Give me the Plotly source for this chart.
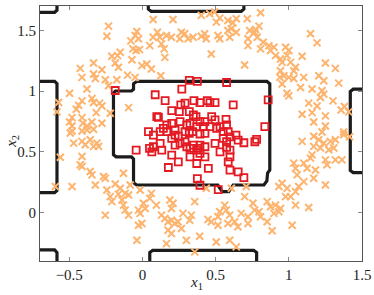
import plotly.graph_objects as go

# ---- class 0 (orange crosses): x1, x2 ----
orange_x1 = [
 -0.232,-0.243,-0.038,-0.05,-0.027,-0.079,-0.065,-0.043,-0.02,-0.152,-0.17,-0.209,-0.186,-0.164,-0.072,-0.004,0.03,
 -0.334,-0.425,-0.413,-0.334,-0.322,-0.277,-0.254,-0.175,-0.102,-0.05,-0.232,-0.379,-0.498,-0.573,-0.584,-0.436,-0.452,
 -0.413,-0.345,-0.334,-0.293,-0.277,-0.316,-0.22,-0.095,-0.481,-0.413,-0.498,-0.481,-0.406,-0.379,-0.345,-0.277,-0.481,
 -0.413,-0.379,-0.334,
 0.073,0.209,0.402,0.459,0.493,0.528,0.505,0.584,0.618,0.641,0.716,0.102,0.073,0.119,0.164,0.198,0.266,0.289,0.255,0.312,
 0.346,0.402,0.425,0.436,0.516,0.528,0.584,0.607,0.641,0.596,0.732,0.766,0.721,0.721,0.05,0.13,0.148,0.153,0.061,0.125,
 0.47,0.698,
 0.807,0.796,0.773,0.784,0.825,0.807,0.864,0.898,0.875,0.909,0.943,0.978,1.0,0.988,0.954,1.012,1.046,1.034,0.943,0.939,
 0.966,1.0,1.034,1.102,0.954,1.08,1.148,1.193,1.091,1.25,1.318,1.341,1.205,1.239,1.159,1.227,1.239,0.988,1.0,1.216,1.302,
 1.136,1.193,1.091,1.159,1.25,1.357,1.409,1.17,1.25,1.227,1.375,1.38,1.415,
 -0.493,-0.47,-0.413,-0.391,-0.357,-0.334,-0.3,-0.311,-0.561,-0.413,-0.425,-0.413,-0.357,-0.345,-0.266,-0.254,-0.13,-0.595,
 -0.481,-0.322,-0.243,-0.186,-0.152,-0.164,-0.118,-0.095,-0.084,-0.016,-0.22,-0.209,-0.14,-0.13,-0.118,-0.027,0.007,0.018,
 -0.254,-0.095,-0.016,-0.027,-0.004,-0.038,
 0.061,0.05,0.095,0.187,0.209,0.198,0.357,0.436,0.607,0.709,0.698,0.755,0.766,0.562,0.573,0.596,0.528,0.516,0.675,0.721,
 0.13,0.153,0.175,0.198,0.221,0.243,0.277,0.334,0.323,0.266,0.175,0.198,0.3,0.391,0.448,0.47,0.516,0.584,0.63,0.652,0.721,
 0.504,0.596,0.641,0.164,0.357,
 1.091,1.17,1.205,1.239,1.284,1.318,1.375,1.17,1.216,1.273,1.307,1.148,1.159,1.25,1.261,1.318,1.363,1.102,1.125,1.182,
 1.034,1.046,1.057,1.17,1.25,1.102,1.068,1.046,0.988,0.954,0.932,1.012,0.978,1.046,1.136,0.852,0.875,0.909,0.943,0.898,
 0.932,0.796,0.807,0.852,0.886,1.023,
]
orange_x2 = [
 1.534,1.451,1.49,1.457,1.43,1.413,1.347,1.333,1.341,1.319,1.291,1.286,1.231,1.195,1.258,1.209,1.222,
 1.231,1.186,1.112,1.14,1.103,1.175,1.093,1.093,1.131,1.112,1.043,1.016,0.982,0.905,0.828,0.883,0.85,
 0.919,0.938,0.905,0.9,0.877,0.822,0.817,0.863,0.781,0.781,0.745,0.712,0.734,0.712,0.745,0.734,0.671,
 0.671,0.679,0.685,
 1.589,1.589,1.623,1.636,1.65,1.6,1.567,1.581,1.562,1.595,1.595,1.484,1.443,1.443,1.457,1.443,1.484,1.471,1.43,1.43,
 1.443,1.451,1.471,1.43,1.457,1.43,1.498,1.512,1.484,1.443,1.498,1.484,1.43,1.374,1.374,1.388,1.347,1.277,1.181,1.126,
 1.305,1.214,
 1.645,1.534,1.507,1.443,1.402,1.347,1.374,1.36,1.333,1.291,1.264,1.36,1.333,1.291,1.236,1.236,1.195,1.167,1.167,1.112,
 1.126,1.112,1.103,1.112,1.057,1.029,1.471,1.396,1.286,1.231,1.186,1.065,1.126,1.084,1.016,1.002,0.974,0.982,0.96,0.946,0.919,
 0.9,0.877,0.809,0.822,0.795,0.844,0.828,0.745,0.712,0.662,0.662,0.872,0.623,
 0.654,0.571,0.585,0.557,0.599,0.544,0.544,0.571,0.455,0.461,0.392,0.378,0.337,0.309,0.296,0.281,0.323,0.213,
 0.213,0.226,0.185,0.234,0.199,0.151,0.157,0.143,0.226,0.185,0.13,0.089,0.102,0.06,0.019,0.019,0.075,0.033,
 -0.022,-0.022,-0.008,-0.105,-0.091,-0.229,
 0.157,0.116,0.06,0.102,0.075,0.033,0.089,0.199,0.199,0.213,0.13,0.075,0.019,0.06,0.019,-0.022,0.006,-0.036,-0.008,-0.036,
 -0.022,-0.05,-0.077,-0.064,-0.091,-0.077,-0.008,-0.022,-0.064,-0.132,-0.147,-0.174,-0.229,-0.196,-0.058,-0.077,-0.105,
 -0.091,-0.077,-0.118,-0.091,-0.243,-0.229,-0.284,-0.257,-0.325,
 0.585,0.627,0.599,0.571,0.585,0.599,0.64,0.544,0.53,0.516,0.53,0.447,0.474,0.433,0.392,0.433,0.433,0.406,0.364,0.35,
 0.406,0.364,0.309,0.281,0.226,0.254,0.213,0.171,0.199,0.24,0.213,0.13,0.13,0.06,0.041,0.089,0.047,0.06,0.033,-0.008,
 0.006,0.006,-0.036,-0.077,-0.151,-0.105,
]

# ---- class 1 (red squares): x1, x2 ----
red_x1 = [
 0.320,0.375,0.575,0.269,0.087,0.155,0.859,0.620,0.352,0.393,0.443,0.461,0.496,0.262,0.291,0.200,0.252,0.320,0.348,0.366,
 0.098,0.109,0.257,0.325,0.393,0.427,0.473,0.496,0.571,0.575,0.530,0.461,0.416,0.371,0.303,0.166,0.143,0.200,0.223,0.166,
 0.121,0.041,0.075,0.223,0.200,0.245,0.291,0.320,0.343,0.427,0.393,0.507,0.552,0.586,0.598,0.639,0.654,0.693,0.780,0.768,
 0.836,0.552,0.575,0.575,0.598,0.530,0.496,0.427,0.393,0.382,0.348,0.325,0.291,0.303,0.257,0.223,0.121,0.075,0.048,0.064,
 0.132,-0.043,0.200,0.245,0.371,0.393,0.325,0.371,0.427,0.450,0.598,0.586,0.654,0.693,0.598,0.375,0.393,0.177,0.518,-0.186,
]
red_x2 = [
 1.087,1.079,1.070,1.016,0.969,0.921,0.927,0.886,0.921,0.905,0.921,0.905,0.905,0.886,0.900,0.839,0.830,0.830,0.803,0.789,
 0.789,0.784,0.748,0.734,0.748,0.748,0.789,0.762,0.767,0.720,0.706,0.706,0.706,0.706,0.720,0.720,0.693,0.734,0.679,0.665,
 0.665,0.665,0.637,0.637,0.610,0.629,0.665,0.651,0.665,0.651,0.646,0.693,0.665,0.665,0.623,0.637,0.596,0.574,0.602,0.582,
 0.706,0.610,0.582,0.536,0.513,0.499,0.569,0.541,0.555,0.527,0.555,0.527,0.582,0.541,0.569,0.555,0.569,0.541,0.527,0.499,
 0.513,0.513,0.472,0.416,0.513,0.486,0.458,0.403,0.458,0.362,0.458,0.416,0.334,0.287,0.348,0.279,0.224,0.370,0.188,1.004,
]

# ---- decision boundary polylines ----
b_center_x1 = [-0.04,0.85,0.87,0.87,0.855,0.85,0.83,0.62,0.605,0.59,0.545,0.53,0.515,-0.04,-0.061,-0.061,-0.075,-0.18,-0.198,-0.198,-0.185,-0.075,-0.061,-0.061,-0.04]
b_center_x2 = [1.079,1.079,1.06,0.35,0.325,0.26,0.226,0.226,0.2,0.172,0.172,0.2,0.226,0.226,0.245,0.44,0.458,0.458,0.475,0.985,1.0,1.0,1.015,1.06,1.079]
b_left_x1 = [-0.75,-0.6,-0.584,-0.584,-0.6,-0.75]
b_left_x2 = [1.079,1.079,1.06,0.18,0.163,0.163]
b_tl_x1 = [-0.75,-0.6,-0.584,-0.584]
b_tl_x2 = [1.648,1.648,1.665,1.75]
b_bl_x1 = [-0.75,-0.6,-0.584,-0.584]
b_bl_x2 = [-0.309,-0.309,-0.33,-0.45]
b_top_x1 = [0.04,0.04,0.06,0.675,0.693,0.693]
b_top_x2 = [1.75,1.675,1.655,1.655,1.675,1.75]
b_bot_x1 = [0.05,0.05,0.07,0.76,0.78,0.78]
b_bot_x2 = [-0.45,-0.33,-0.312,-0.312,-0.33,-0.45]
b_right_x1 = [1.55,1.44,1.42,1.42,1.44,1.55]
b_right_x2 = [1.015,1.015,0.995,0.345,0.328,0.328]

x_tickvals = [-0.5, 0, 0.5, 1, 1.5]
x_ticktext = ["\u22120.5", "0", "0.5", "1", "1.5"]
y_tickvals = [0, 0.5, 1, 1.5]
y_ticktext = ["0", "0.5", "1", "1.5"]

fig = go.Figure()
for bx, by in [(b_center_x1, b_center_x2), (b_left_x1, b_left_x2), (b_tl_x1, b_tl_x2),
               (b_bl_x1, b_bl_x2), (b_top_x1, b_top_x2), (b_bot_x1, b_bot_x2),
               (b_right_x1, b_right_x2)]:
    fig.add_trace(go.Scatter(x=bx, y=by, mode="lines",
                             line=dict(color="#1c1c1c", width=3.2),
                             hoverinfo="skip", showlegend=False))

fig.add_trace(go.Scatter(x=orange_x1, y=orange_x2, mode="markers",
                         marker=dict(symbol="x-thin", size=7,
                                     line=dict(color="#FDB46E", width=2)),
                         showlegend=False))
fig.add_trace(go.Scatter(x=red_x1, y=red_x2, mode="markers",
                         marker=dict(symbol="square-open", size=7,
                                     color="#E41A23",
                                     line=dict(color="#E41A23", width=1.8)),
                         showlegend=False))

font = dict(family="Liberation Serif", size=15, color="#222")
fig.update_layout(
    width=374, height=295,
    margin=dict(l=40, r=12, t=6, b=34, autoexpand=False),
    paper_bgcolor="white", plot_bgcolor="white",
    font=font,
    xaxis=dict(range=[-0.7, 1.5], tickvals=x_tickvals, ticktext=x_ticktext,
               showgrid=False, zeroline=False, showline=True, linecolor="#555",
               linewidth=1, mirror="ticks", ticks="inside", ticklen=4, tickcolor="#888",
               automargin=False),
    yaxis=dict(range=[-0.4, 1.7], tickvals=y_tickvals, ticktext=y_ticktext,
               showgrid=False, zeroline=False, showline=True, linecolor="#555",
               linewidth=1, mirror="ticks", ticks="inside", ticklen=4, tickcolor="#888",
               automargin=False),
    annotations=[
        dict(text="<i>x</i><sub>1</sub>", xref="paper", yref="paper", x=0.485, y=-0.085,
             xanchor="center", yanchor="middle", showarrow=False, font=font),
        dict(text="<i>x</i><sub>2</sub>", xref="paper", yref="paper", x=-0.088, y=0.47,
             xanchor="center", yanchor="middle", textangle=-90, showarrow=False, font=font),
    ],
)
fig.write_html("out.html", config={"displayModeBar": False},
               post_script="document.body.style.margin='0';")
